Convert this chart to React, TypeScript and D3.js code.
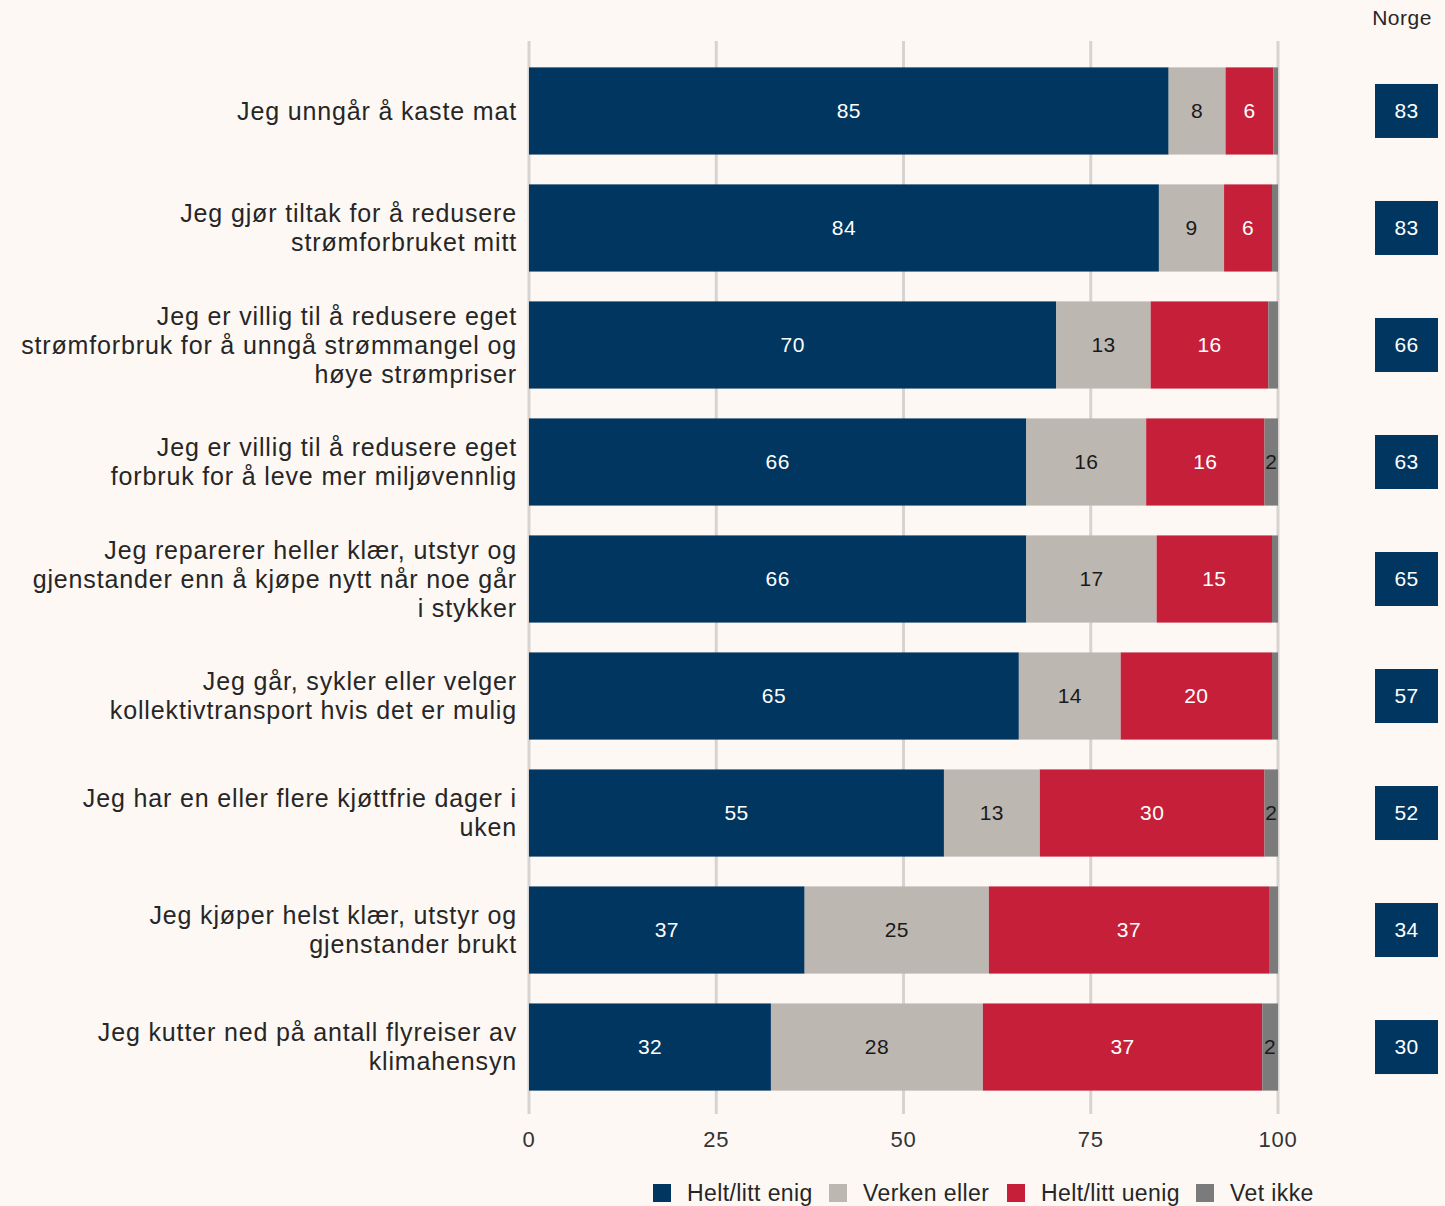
import React from "react";
import * as d3 from "d3";

const categories: string[][] = [
  ["Jeg unngår å kaste mat"],
  ["Jeg gjør tiltak for å redusere", "strømforbruket mitt"],
  ["Jeg er villig til å redusere eget", "strømforbruk for å unngå strømmangel og", "høye strømpriser"],
  ["Jeg er villig til å redusere eget", "forbruk for å leve mer miljøvennlig"],
  ["Jeg reparerer heller klær, utstyr og", "gjenstander enn å kjøpe nytt når noe går", "i stykker"],
  ["Jeg går, sykler eller velger", "kollektivtransport hvis det er mulig"],
  ["Jeg har en eller flere kjøttfrie dager i", "uken"],
  ["Jeg kjøper helst klær, utstyr og", "gjenstander brukt"],
  ["Jeg kutter ned på antall flyreiser av", "klimahensyn"],
];
const enig = [85.4, 84.1, 70.4, 66.4, 66.4, 65.4, 55.4, 36.8, 32.3];
const verken = [7.6, 8.7, 12.6, 16.0, 17.4, 13.6, 12.8, 24.6, 28.3];
const uenig = [6.4, 6.4, 15.7, 15.8, 15.4, 20.2, 30.0, 37.4, 37.3];
const vetIkke = [0.6, 0.8, 1.3, 1.8, 0.8, 0.8, 1.8, 1.2, 2.1];
const norge = [83, 83, 66, 63, 65, 57, 52, 34, 30];
const seriesNames = ["Helt/litt enig", "Verken eller", "Helt/litt uenig", "Vet ikke"];
const seriesColors = ["#003660", "#bdb7b2", "#c51f3a", "#7b7b7b"];
const seriesText = ["#ffffff", "#1a1a1a", "#ffffff", "#1a1a1a"];
const xTicks = [0, 25, 50, 75, 100];

const W = 1445;
const H = 1206;
const FONT = "Liberation Sans, Arial, sans-serif";

export default function App() {
  const x = d3.scaleLinear().domain([0, 100]).range([529, 1278]);
  const y = d3
    .scaleBand<number>()
    .domain(d3.range(categories.length))
    .range([51, 1107])
    .paddingInner(0.255)
    .paddingOuter(0.14);
  const series = [enig, verken, uenig, vetIkke];
  const bw = y.bandwidth();

  return (
    <svg width={W} height={H} style={{ display: "block", position: "absolute", left: 0, top: 0 }} fontFamily={FONT}>
      <rect width={W} height={H} fill="#fdf8f4" />
      {xTicks.map((t) => (
        <line key={t} x1={x(t)} x2={x(t)} y1={41} y2={1114} stroke="#d6d3d1" strokeWidth={3} />
      ))}
      {xTicks.map((t) => (
        <text key={"t" + t} x={x(t)} y={1147} fontSize={22} letterSpacing={0.8} textAnchor="middle" fill="#333">
          {t}
        </text>
      ))}
      {categories.map((lines, i) => {
        const y0 = y(i)!;
        const cy = y0 + bw / 2;
        let acc = 0;
        const segs = series.map((s, k) => {
          const v = s[i];
          const x0 = x(acc);
          acc += v;
          const x1 = x(acc);
          return { k, v, x0, x1 };
        });
        const lh = 29;
        const startY = cy - ((lines.length - 1) * lh) / 2;
        return (
          <g key={i}>
            {segs.map((sg) => (
              <rect
                key={sg.k}
                x={sg.x0}
                y={y0}
                width={Math.max(0, sg.x1 - sg.x0)}
                height={bw}
                fill={seriesColors[sg.k]}
              />
            ))}
            {segs.map((sg) =>
              sg.v >= 1.5 ? (
                <text
                  key={"l" + sg.k}
                  x={(sg.x0 + sg.x1) / 2}
                  y={cy}
                  dy="0.35em"
                  fontSize={21}
                  letterSpacing={0.4}
                  textAnchor="middle"
                  fill={seriesText[sg.k]}
                >
                  {Math.round(sg.v)}
                </text>
              ) : null
            )}
            {lines.map((ln, j) => (
              <text
                key={"c" + j}
                x={517}
                y={startY + j * lh}
                dy="0.35em"
                fontSize={25}
                letterSpacing={0.85}
                textAnchor="end"
                fill="#262626"
              >
                {ln}
              </text>
            ))}
            <rect x={1375} y={cy - 27} width={63} height={54} fill="#003660" />
            <text x={1406.5} y={cy} dy="0.35em" fontSize={21} letterSpacing={0.4} textAnchor="middle" fill="#fff">
              {norge[i]}
            </text>
          </g>
        );
      })}
      <text x={1402} y={18} dy="0.35em" fontSize={21} letterSpacing={0.5} textAnchor="middle" fill="#262626">
        Norge
      </text>
      {seriesNames.map((n, k) => {
        const lx = [653, 829, 1007, 1196][k];
        return (
          <g key={n}>
            <rect x={lx} y={1184} width={18} height={18} fill={seriesColors[k]} />
            <text x={lx + 34} y={1193} dy="0.35em" fontSize={23} letterSpacing={0.4} fill="#262626">
              {n}
            </text>
          </g>
        );
      })}
    </svg>
  );
}
